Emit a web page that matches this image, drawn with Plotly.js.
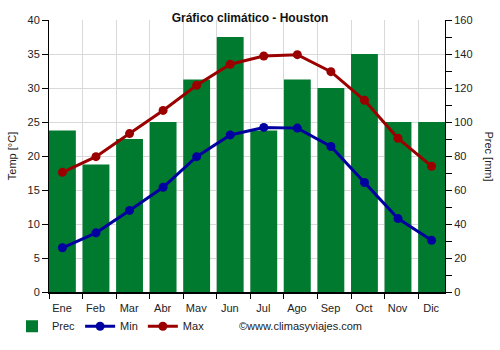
<!DOCTYPE html>
<html>
<head>
<meta charset="utf-8">
<script src="https://cdn.plot.ly/plotly-3.0.1.min.js"></script>
<style>html,body{margin:0;padding:0;background:#fff;}#chart{width:500px;height:350px;}</style>
</head>
<body>
<div id="chart"></div>
<script>
var months = ["Ene","Feb","Mar","Abr","May","Jun","Jul","Ago","Sep","Oct","Nov","Dic"];
var prec = [95, 75, 90, 100, 125, 150, 95, 125, 120, 140, 100, 100];
var tmin = [6.5, 8.7, 12.0, 15.4, 19.9, 23.1, 24.2, 24.1, 21.4, 16.1, 10.8, 7.6];
var tmax = [17.6, 19.9, 23.3, 26.7, 30.4, 33.5, 34.7, 34.9, 32.4, 28.2, 22.6, 18.5];

var idx = months.map(function(m, i){ return i; });
var gridVals = months.map(function(m, i){ return i - 0.4; });

var traces = [
  {type: 'bar', name: 'Prec', x: idx, y: prec, yaxis: 'y', width: 0.8,
   marker: {color: '#007a2e'}},
  {type: 'scatter', mode: 'lines+markers', name: 'Min', x: idx, y: tmin, yaxis: 'y2',
   line: {color: '#0000a0', width: 3}, marker: {color: '#0000a0', size: 9}},
  {type: 'scatter', mode: 'lines+markers', name: 'Max', x: idx, y: tmax, yaxis: 'y2',
   line: {color: '#9b0000', width: 3}, marker: {color: '#9b0000', size: 9}}
];

var font = {family: 'Liberation Sans, Arial, sans-serif', size: 11, color: '#222'};

var layout = {
  width: 500, height: 350,
  margin: {l: 49, r: 55, t: 20, b: 58, pad: 0},
  paper_bgcolor: '#fff', plot_bgcolor: '#fff',
  font: font,
  title: {text: '<b>Gráfico climático - Houston</b>', x: 0.5, xanchor: 'center', y: 0.95, yanchor: 'middle',
          font: {family: 'Liberation Sans, Arial, sans-serif', size: 12, color: '#111'}},
  showlegend: true,
  legend: {orientation: 'h', xref: 'container', yref: 'container', x: 0.024, y: 0.068,
           xanchor: 'left', yanchor: 'middle', font: {size: 11, color: '#222'}, itemclick: false,
           traceorder: 'normal'},
  xaxis: {range: [-0.4, 11.4], tickvals: gridVals, ticktext: months, ticklabelshift: 13,
          showgrid: true, gridcolor: '#d9d9d9', gridwidth: 1,
          ticks: 'outside', ticklen: 5, tickcolor: '#000',
          showline: true, linecolor: '#000', linewidth: 2, zeroline: false, fixedrange: true},
  yaxis: {range: [0, 160], dtick: 20, tick0: 0, side: 'right', showgrid: true, gridcolor: '#d9d9d9', gridwidth: 1,
          ticks: 'outside', ticklen: 6, tickcolor: '#000', showline: true, linecolor: '#000', linewidth: 1,
          zeroline: false, minor: {dtick: 10, ticks: 'outside', ticklen: 6, tickcolor: '#000', showgrid: false}},
  yaxis2: {range: [0, 40], dtick: 5, tick0: 0, overlaying: 'y', side: 'left', showgrid: false,
          ticks: 'outside', ticklen: 6, tickcolor: '#000', showline: true, linecolor: '#000', linewidth: 1,
          zeroline: false, title: {text: 'Temp [°C]', standoff: 8, font: {size: 11}}},
  annotations: [
    {text: 'Prec [mm]', textangle: 90, xref: 'paper', yref: 'paper', x: 1.11, y: 0.5,
     xanchor: 'center', yanchor: 'middle', showarrow: false, font: {size: 11, color: '#222'}},
    {text: '©www.climasyviajes.com', xref: 'paper', yref: 'paper', x: 0.475, y: -0.124,
     xanchor: 'left', yanchor: 'middle', showarrow: false, font: {size: 11, color: '#222'}}
  ]
};

Plotly.newPlot('chart', traces, layout, {displayModeBar: false, staticPlot: true});
</script>
</body>
</html>
